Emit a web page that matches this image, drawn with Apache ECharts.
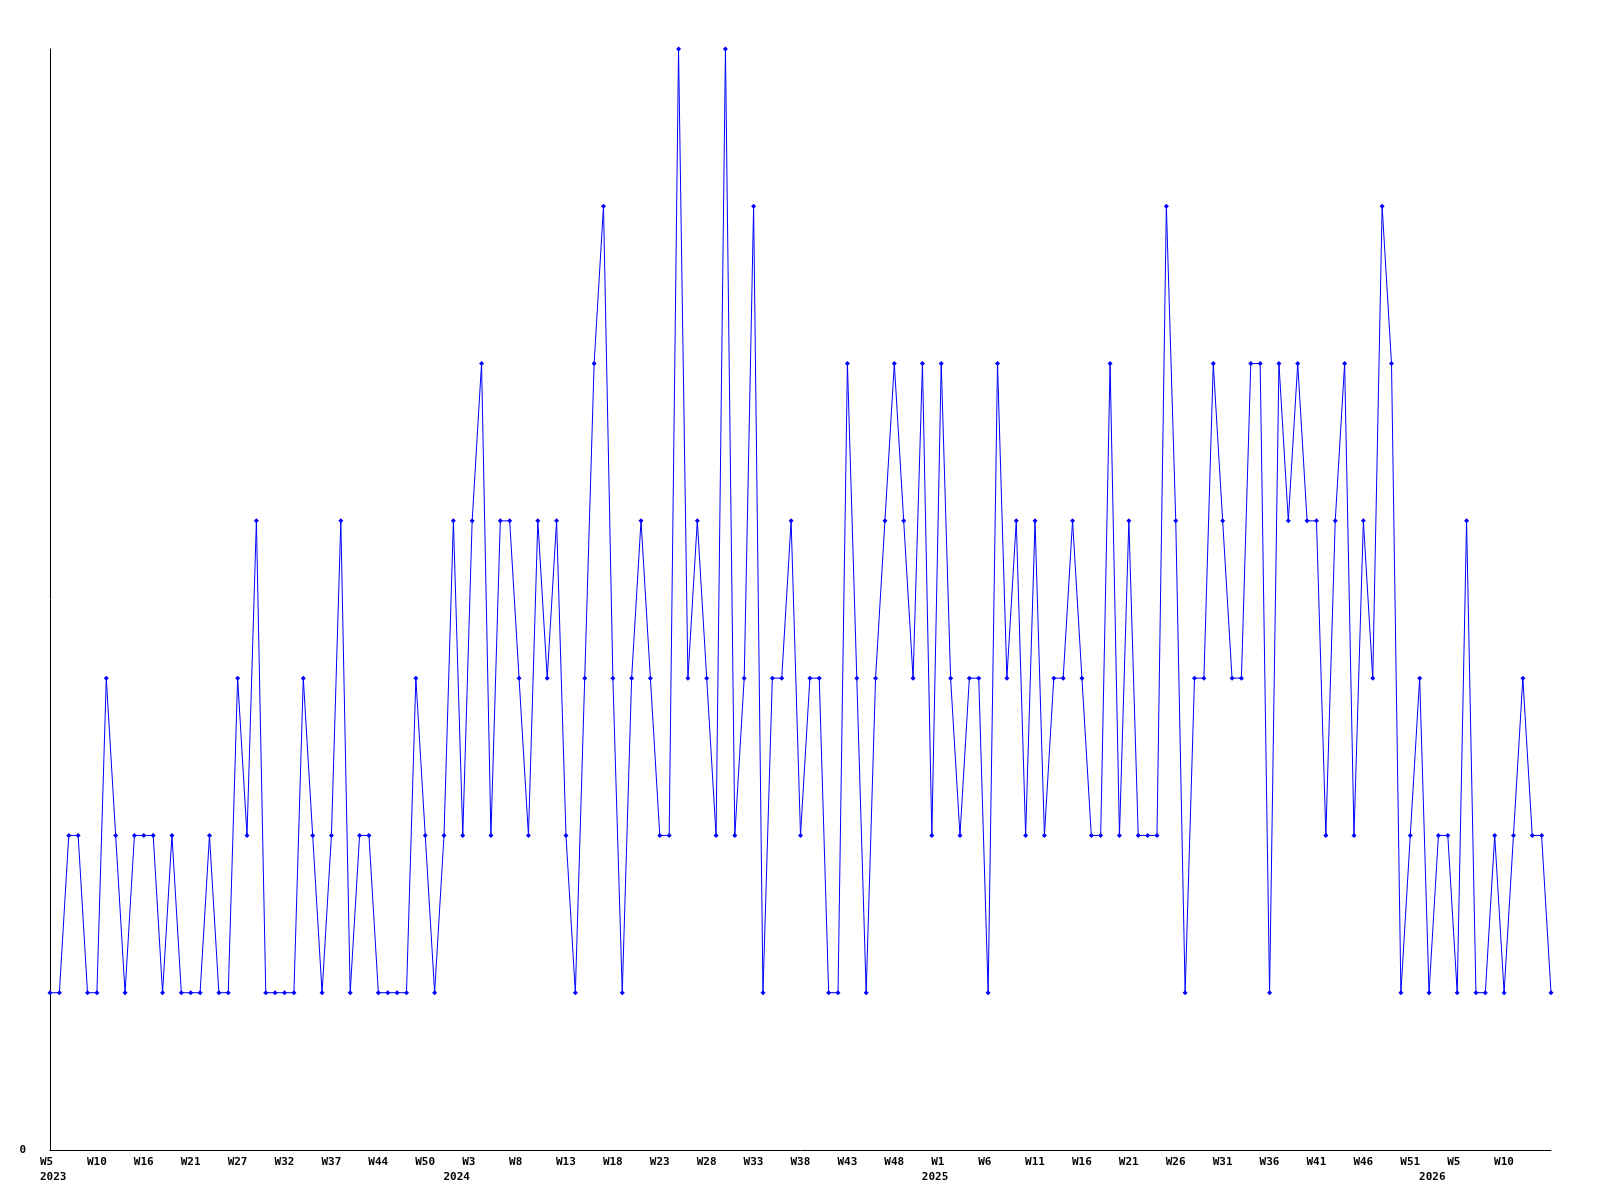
<!DOCTYPE html>
<html>
<head>
<meta charset="utf-8">
<style>
  html, body { margin: 0; padding: 0; background: #ffffff; }
  #chart { width: 1600px; height: 1200px; }
</style>
<script src="https://cdn.jsdelivr.net/npm/echarts@6/dist/echarts.min.js"></script>
</head>
<body>
<div id="chart"></div>
<script>
// ISO weeks (year-week) for each data point
const categories = [
  "2023-W5","2023-W6","2023-W7","2023-W8","2023-W9","2023-W10","2023-W11","2023-W12","2023-W13","2023-W14",
  "2023-W16","2023-W17","2023-W18","2023-W19","2023-W20","2023-W21","2023-W22","2023-W23","2023-W24","2023-W25",
  "2023-W27","2023-W28","2023-W29","2023-W30","2023-W31","2023-W32","2023-W33","2023-W34","2023-W35","2023-W36",
  "2023-W37","2023-W38","2023-W39","2023-W40","2023-W41","2023-W44","2023-W45","2023-W46","2023-W47","2023-W48",
  "2023-W50","2023-W51","2023-W52","2024-W1","2024-W2","2024-W3","2024-W4","2024-W5","2024-W6","2024-W7",
  "2024-W8","2024-W9","2024-W10","2024-W11","2024-W12","2024-W13","2024-W14","2024-W15","2024-W16","2024-W17",
  "2024-W18","2024-W19","2024-W20","2024-W21","2024-W22","2024-W23","2024-W24","2024-W25","2024-W26","2024-W27",
  "2024-W28","2024-W29","2024-W30","2024-W31","2024-W32","2024-W33","2024-W34","2024-W35","2024-W36","2024-W37",
  "2024-W38","2024-W39","2024-W40","2024-W41","2024-W42","2024-W43","2024-W44","2024-W45","2024-W46","2024-W47",
  "2024-W48","2024-W49","2024-W50","2024-W51","2024-W52","2025-W1","2025-W2","2025-W3","2025-W4","2025-W5",
  "2025-W6","2025-W7","2025-W8","2025-W9","2025-W10","2025-W11","2025-W12","2025-W13","2025-W14","2025-W15",
  "2025-W16","2025-W17","2025-W18","2025-W19","2025-W20","2025-W21","2025-W22","2025-W23","2025-W24","2025-W25",
  "2025-W26","2025-W27","2025-W28","2025-W29","2025-W30","2025-W31","2025-W32","2025-W33","2025-W34","2025-W35",
  "2025-W36","2025-W37","2025-W38","2025-W39","2025-W40","2025-W41","2025-W42","2025-W43","2025-W44","2025-W45",
  "2025-W46","2025-W47","2025-W48","2025-W49","2025-W50","2025-W51","2025-W52","2026-W1","2026-W2","2026-W3",
  "2026-W5","2026-W6","2026-W7","2026-W8","2026-W9","2026-W10","2026-W11","2026-W12","2026-W13","2026-W14",
  "2026-W15"
];

const values = [
  1,1,2,2,1,1,3,2,1,2,
  2,2,1,2,1,1,1,2,1,1,
  3,2,4,1,1,1,1,3,2,1,
  2,4,1,2,2,1,1,1,1,3,
  2,1,2,4,2,4,5,2,4,4,
  3,2,4,3,4,2,1,3,5,6,
  3,1,3,4,3,2,2,7,3,4,
  3,2,7,2,3,6,1,3,3,4,
  2,3,3,1,1,5,3,1,3,4,
  5,4,3,5,2,5,3,2,3,3,
  1,5,3,4,2,4,2,3,3,4,
  3,2,2,5,2,4,2,2,2,6,
  4,1,3,3,5,4,3,3,5,5,
  1,5,4,5,4,4,2,4,5,2,
  4,3,6,5,1,2,3,1,2,2,
  1,4,1,1,2,1,2,3,2,2,
  1
];

// year labels and the week (category) under which each is printed
const yearLabels = ["2023", "2024", "2025", "2026"];
const yearLabelAt = ["2023-W5", "2024-W1", "2024-W52", "2026-W1"];

const yTickLabels = ["0"];
const labelStep = 5;

const FONT = "DejaVu Sans Mono";
const baseLabel = {
  color: '#000000',
  fontFamily: FONT,
  fontWeight: 'bold',
  fontSize: 11,
  lineHeight: 15,
  hideOverlap: false,
  align: 'left',
  padding: [0, 0, 0, -10]
};

const chart = echarts.init(document.getElementById('chart'), null, { renderer: 'canvas' });

chart.setOption({
  animation: false,
  backgroundColor: '#ffffff',
  grid: { left: 50, right: 49, top: 49, bottom: 50, containLabel: false },
  xAxis: [{
    type: 'category',
    data: categories,
    boundaryGap: false,
    axisLine: { show: true, onZero: false, lineStyle: { color: '#000000', width: 1 } },
    axisTick: { show: false },
    splitLine: { show: false },
    axisLabel: Object.assign({}, baseLabel, {
      margin: 5,
      interval: function (index) { return index % labelStep === 0 && index < categories.length - 1; },
      formatter: function (value) { return value.split('-')[1]; }
    })
  }, {
    type: 'category',
    data: categories,
    position: 'bottom',
    boundaryGap: false,
    axisLine: { show: false },
    axisTick: { show: false },
    splitLine: { show: false },
    axisLabel: Object.assign({}, baseLabel, {
      margin: 20,
      interval: function (index, value) { return yearLabelAt.indexOf(value) >= 0; },
      formatter: function (value) { return yearLabels[yearLabelAt.indexOf(value)] || ''; }
    })
  }],
  yAxis: {
    type: 'value',
    min: 0,
    max: 7,
    interval: 7,
    axisLine: { show: true, lineStyle: { color: '#000000', width: 1 } },
    axisTick: { show: false },
    splitLine: { show: false },
    axisLabel: {
      margin: 24,
      color: '#000000',
      fontFamily: FONT,
      fontWeight: 'bold',
      fontSize: 11,
      formatter: function (v) { return v === 0 ? yTickLabels[0] : ''; }
    }
  },
  series: [{
    type: 'line',
    xAxisIndex: 0,
    data: values,
    symbol: 'diamond',
    symbolSize: 5,
    showAllSymbol: true,
    lineStyle: { color: '#0000ff', width: 1 },
    itemStyle: { color: '#0000ff' },
    emphasis: { disabled: true }
  }]
});
</script>
</body>
</html>
